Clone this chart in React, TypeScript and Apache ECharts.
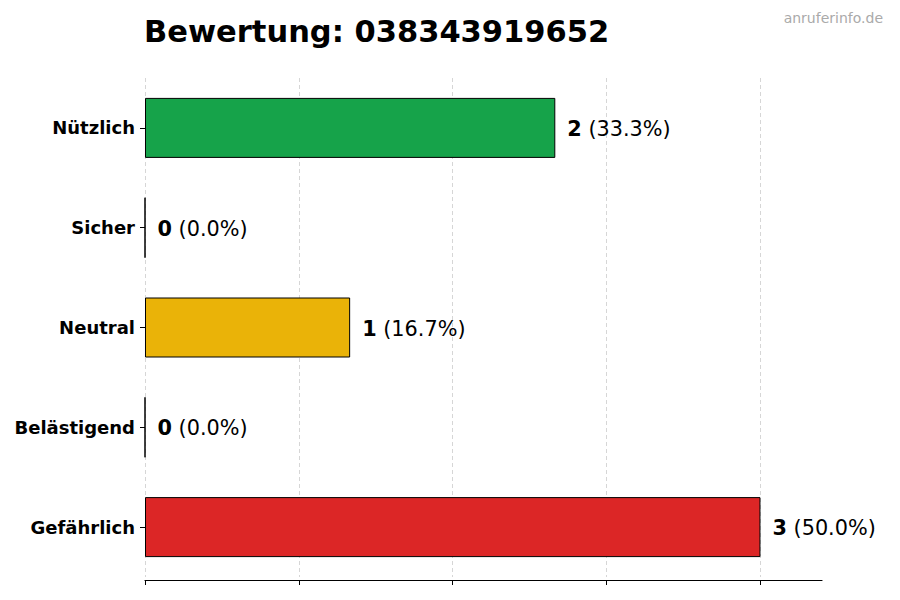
import React, { useEffect, useRef } from "react";
import * as echarts from "echarts";

const categories = ["Nützlich", "Sicher", "Neutral", "Belästigend", "Gefährlich"];
const counts = [2, 0, 1, 0, 3];
const percents = ["33.3", "0.0", "16.7", "0.0", "50.0"];
const colors = ["#16a34a", "#16a34a", "#eab308", "#f97316", "#dc2626"];
const xTicks = [0, 0.75, 1.5, 2.25, 3];
const titleText = "Bewertung: 038343919652";
const watermark = "anruferinfo.de";

const FONT = "DejaVu Sans";

export default function App() {
  const ref = useRef<HTMLDivElement>(null);
  useEffect(() => {
    const chart = echarts.init(ref.current!, null, { renderer: "svg" });
    chart.setOption({
      animation: false,
      backgroundColor: "#ffffff",
      title: [
        {
          text: titleText,
          left: 139,
          top: 11,
          textStyle: { fontFamily: FONT, fontSize: 30.5, fontWeight: "bold", color: "#000" },
        },
        {
          text: watermark,
          right: 12,
          top: 6,
          textStyle: { fontFamily: FONT, fontSize: 14, fontWeight: "normal", color: "#aaaaaa" },
        },
      ],
      grid: { left: 145, right: 78, top: 78, bottom: 23, containLabel: false },
      xAxis: {
        type: "value",
        min: 0,
        max: 3.3,
        offset: 3,
        axisLabel: { show: false, customValues: xTicks },
        axisLine: { show: true, lineStyle: { color: "#000", width: 1.2 } },
        axisTick: { show: true, length: 5, customValues: xTicks, lineStyle: { color: "#000", width: 1 } },
        splitLine: { show: true, lineStyle: { color: "#cccccc", type: [4, 3], width: 0.8 } },
      },
      yAxis: {
        type: "category",
        data: categories,
        inverse: true,
        axisLine: { show: false },
        axisTick: { show: true, length: 5, alignWithLabel: true, lineStyle: { color: "#000" } },
        axisLabel: {
          fontFamily: FONT,
          fontSize: 18,
          fontWeight: "bold",
          color: "#000",
          margin: 10,
          padding: [2, 0, 0, 0],
        },
        splitLine: { show: false },
      },
      series: [
        {
          type: "bar",
          data: counts.map((v, i) => ({
            value: v,
            itemStyle: { color: colors[i], borderColor: "#000", borderWidth: 1 },
          })),
          barWidth: 60,
          label: {
            show: true,
            position: "right",
            distance: 12,
            padding: [2, 0, 0, 0],
            formatter: (p: any) => `{b|${counts[p.dataIndex]}}{n| (${percents[p.dataIndex]}%)}`,
            rich: {
              b: { fontFamily: FONT, fontSize: 20.8, fontWeight: "bold", color: "#000" },
              n: { fontFamily: FONT, fontSize: 20.8, fontWeight: "normal", color: "#000" },
            },
          },
        },
      ],
    });
    return () => chart.dispose();
  }, []);
  return <div ref={ref} style={{ width: 900, height: 600, margin: -8 }} />;
}
